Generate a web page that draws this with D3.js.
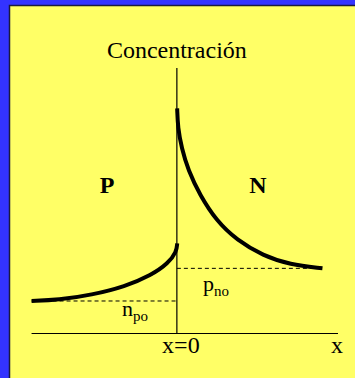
<!DOCTYPE html>
<html lang="es">
	<head>
		<meta charset="utf-8">
		<title>Concentración</title>
		<script src="https://d3js.org/d3.v7.min.js"></script>
		<style type="text/css">
			body { margin: 0; background: #3333ff; }
			svg { display: block; }
			text { font-family: "Liberation Serif", "Times New Roman", serif; fill: #000; }
		</style>
	</head>
	<body>
		<script type="text/javascript">
		// curve on the N side (minority holes), x in units of distance, y in units of npo
		var nSideX = [0.002, 0.007, 0.033, 0.078, 0.16, 0.276, 0.415, 0.6, 0.785, 1.012];
		var nSideY = [7.02, 6.41, 5.78, 5.09, 4.31, 3.5, 2.91, 2.41, 2.14, 2.02];

		// curve on the P side (minority electrons)
		var pSideX = [-1.01, -0.824, -0.592, -0.361, -0.176, -0.06, -0.002, 0.002];
		var pSideY = [1.0, 1.03, 1.19, 1.45, 1.81, 2.18, 2.54, 2.80];

		var npo = 1.0, pno = 2.02;
		var xMin = -1.01, xMax = 1.12, yMax = 8.28;

		var width = 355, height = 378;

		var svg = d3.select("body")
			.append("svg")
			.attr("width", width)
			.attr("height", height);

		// blue frame + yellow panel
		svg.append("rect")
			.attr("width", width).attr("height", height)
			.attr("fill", "#3333ff");
		svg.append("rect")
			.attr("x", 9).attr("y", 5)
			.attr("width", width - 9).attr("height", height - 5)
			.attr("fill", "#ffff66");
		svg.append("path")
			.attr("d", "M9.5," + height + "V5.5H" + width)
			.attr("fill", "none")
			.attr("stroke", "#1a1a40")
			.attr("stroke-width", 1.5);

		var x = d3.scaleLinear().domain([-1, 1.12]).range([33, 338]);
		var y = d3.scaleLinear().domain([0, yMax]).range([333, 68]);

		// axes
		svg.append("line")
			.attr("x1", x(xMin)).attr("x2", x(xMax))
			.attr("y1", y(0) + 0.5).attr("y2", y(0) + 0.5)
			.attr("stroke", "#000").attr("stroke-width", 1.2);
		svg.append("line")
			.attr("x1", x(0)).attr("x2", x(0))
			.attr("y1", y(yMax)).attr("y2", y(0))
			.attr("stroke", "#000").attr("stroke-width", 1.2);

		// equilibrium levels
		svg.append("line")
			.attr("x1", x(xMin)).attr("x2", x(0))
			.attr("y1", y(npo)).attr("y2", y(npo))
			.attr("stroke", "#000").attr("stroke-dasharray", "4,3");
		svg.append("line")
			.attr("x1", x(0)).attr("x2", x(nSideX[nSideX.length - 1]))
			.attr("y1", y(pno)).attr("y2", y(pno))
			.attr("stroke", "#000").attr("stroke-dasharray", "4,3");

		var line = d3.line()
			.x(function(d){ return x(d[0]); })
			.y(function(d){ return y(d[1]); })
			.curve(d3.curveBasis);

		svg.append("path")
			.datum(d3.zip(nSideX, nSideY))
			.attr("d", line)
			.attr("fill", "none")
			.attr("stroke", "#000")
			.attr("stroke-width", 4);

		svg.append("path")
			.datum(d3.zip(pSideX, pSideY))
			.attr("d", line)
			.attr("fill", "none")
			.attr("stroke", "#000")
			.attr("stroke-width", 4);

		// labels
		svg.append("text")
			.attr("x", x(0)).attr("y", 58)
			.attr("text-anchor", "middle")
			.attr("font-size", 24)
			.text("Concentración");

		svg.append("text")
			.attr("x", 107).attr("y", 193)
			.attr("text-anchor", "middle")
			.attr("font-size", 24).attr("font-weight", "bold")
			.text("P");

		svg.append("text")
			.attr("x", 258).attr("y", 193)
			.attr("text-anchor", "middle")
			.attr("font-size", 24).attr("font-weight", "bold")
			.text("N");

		svg.append("text")
			.attr("x", x(0) + 4).attr("y", 353)
			.attr("text-anchor", "middle")
			.attr("font-size", 24)
			.text("x=0");

		svg.append("text")
			.attr("x", 337).attr("y", 353)
			.attr("text-anchor", "middle")
			.attr("font-size", 24)
			.text("x");

		var pLab = svg.append("text")
			.attr("x", 203).attr("y", 291)
			.attr("font-size", 22);
		pLab.append("tspan").text("p");
		pLab.append("tspan").attr("font-size", 15).attr("dy", 5).text("no");

		var nLab = svg.append("text")
			.attr("x", 122).attr("y", 316)
			.attr("font-size", 22);
		nLab.append("tspan").text("n");
		nLab.append("tspan").attr("font-size", 15).attr("dy", 5).text("po");
		</script>
	</body>
</html>
